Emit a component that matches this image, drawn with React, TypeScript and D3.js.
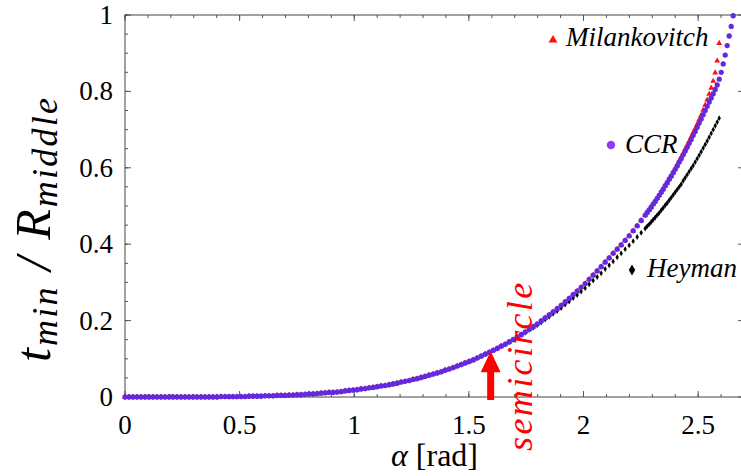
import React from "react";
import * as d3 from "d3";

// svg size and plot box edges (px)
const width = 741,
  height = 476;
const box = { left: 125, top: 15, right: 744, bottom: 397 };
const SERIF = "Liberation Serif";

// sampling grid of the curves, in degrees: 1 deg steps, then 0.5 deg steps near the end
const alphaLowDeg = d3.range(0, 130, 1);
const alphaHighDeg = d3.range(130, 152.01, 0.5);

// t_min / R_middle
const ccrLow = [
  0, 0, 0, 0, 0, 0, 0, 0, 0, 0, 0, 0, 0, 0, 0, 0, 0, 0, 0, 0, 0, 0, 0, 0,
  0.001, 0.001, 0.001, 0.001, 0.001, 0.001, 0.001, 0.002, 0.002, 0.002, 0.002,
  0.003, 0.003, 0.003, 0.004, 0.004, 0.004,
  0.005, 0.005, 0.006, 0.006, 0.007, 0.008, 0.008, 0.009, 0.01,
  0.011, 0.012, 0.012, 0.013, 0.014, 0.016, 0.017, 0.018, 0.019, 0.021,
  0.022, 0.024, 0.025, 0.027, 0.029, 0.03, 0.032, 0.034, 0.036, 0.039,
  0.041, 0.043, 0.046, 0.048, 0.051, 0.054, 0.057, 0.06, 0.063, 0.066,
  0.07, 0.073, 0.077, 0.081, 0.085, 0.089, 0.093, 0.097, 0.102, 0.107,
  0.112, 0.117, 0.122, 0.127, 0.133, 0.138, 0.144, 0.15, 0.157, 0.163,
  0.17, 0.177, 0.184, 0.191, 0.199, 0.207, 0.215, 0.223, 0.231, 0.24,
  0.249, 0.258, 0.268, 0.277, 0.287, 0.297, 0.308, 0.319, 0.33, 0.341,
  0.353, 0.364, 0.376, 0.387, 0.398, 0.41, 0.422, 0.435, 0.448, 0.462,
];
const ccrHigh = [
  0.476, 0.483, 0.49, 0.497, 0.505, 0.512, 0.52, 0.528, 0.536, 0.544,
  0.553, 0.561, 0.57, 0.578, 0.587, 0.596, 0.605, 0.615, 0.624, 0.634,
  0.644, 0.654, 0.664, 0.674, 0.685, 0.695, 0.706, 0.717, 0.728, 0.739,
  0.75, 0.761, 0.772, 0.783, 0.794, 0.805, 0.817, 0.832, 0.85, 0.872,
  0.895, 0.92, 0.945, 0.97, 0.998,
];

const milankovitchLow = [
  0, 0, 0, 0, 0, 0, 0, 0, 0, 0, 0, 0, 0, 0, 0, 0, 0, 0, 0, 0, 0, 0, 0, 0,
  0.001, 0.001, 0.001, 0.001, 0.001, 0.001, 0.001, 0.002, 0.002, 0.002, 0.002,
  0.003, 0.003, 0.003, 0.004, 0.004, 0.004,
  0.005, 0.005, 0.006, 0.006, 0.007, 0.008, 0.008, 0.009, 0.01,
  0.011, 0.012, 0.012, 0.013, 0.014, 0.016, 0.017, 0.018, 0.019, 0.021,
  0.022, 0.024, 0.025, 0.027, 0.029, 0.03, 0.032, 0.034, 0.036, 0.039,
  0.041, 0.043, 0.046, 0.048, 0.051, 0.054, 0.057, 0.06, 0.063, 0.066,
  0.07, 0.073, 0.077, 0.081, 0.085, 0.089, 0.093, 0.097, 0.102, 0.107,
  0.112, 0.117, 0.122, 0.127, 0.133, 0.138, 0.144, 0.15, 0.157, 0.163,
  0.17, 0.177, 0.184, 0.191, 0.199, 0.207, 0.215, 0.223, 0.231, 0.24,
  0.249, 0.258, 0.268, 0.277, 0.287, 0.297, 0.308, 0.319, 0.33, 0.341,
  0.353, 0.364, 0.376, 0.387, 0.398, 0.41, 0.422, 0.435, 0.448, 0.462,
];
const milankovitchHigh = [
  0.476, 0.483, 0.49, 0.497, 0.505, 0.512, 0.52, 0.528, 0.536, 0.544,
  0.553, 0.561, 0.57, 0.579, 0.588, 0.598, 0.608, 0.618, 0.628, 0.638,
  0.649, 0.659, 0.67, 0.681, 0.692, 0.703, 0.714, 0.726, 0.738, 0.751,
  0.764, 0.778, 0.793, 0.809, 0.827, 0.849, 0.88, 0.926,
];

const heymanLow = [
  0, 0, 0, 0, 0, 0, 0, 0, 0, 0, 0, 0, 0, 0, 0, 0, 0, 0, 0, 0, 0, 0, 0, 0,
  0.001, 0.001, 0.001, 0.001, 0.001, 0.001, 0.001, 0.002, 0.002, 0.002, 0.002,
  0.003, 0.003, 0.003, 0.004, 0.004, 0.004,
  0.005, 0.005, 0.006, 0.006, 0.007, 0.008, 0.008, 0.009, 0.01,
  0.011, 0.012, 0.012, 0.013, 0.014, 0.016, 0.017, 0.018, 0.019, 0.021,
  0.022, 0.024, 0.025, 0.027, 0.029, 0.03, 0.032, 0.034, 0.036, 0.039,
  0.041, 0.043, 0.046, 0.048, 0.051, 0.054, 0.057, 0.06, 0.063, 0.066,
  0.07, 0.073, 0.077, 0.081, 0.085, 0.089, 0.093, 0.097, 0.102, 0.107,
  0.112, 0.117, 0.122, 0.127, 0.133, 0.138, 0.144, 0.15, 0.157, 0.163,
  0.168, 0.175, 0.181, 0.188, 0.195, 0.203, 0.21, 0.218, 0.225, 0.233,
  0.242, 0.25, 0.259, 0.267, 0.276, 0.285, 0.295, 0.305, 0.314, 0.324,
  0.335, 0.345, 0.355, 0.366, 0.376, 0.387, 0.397, 0.408, 0.419, 0.43,
];
const heymanHigh = [
  0.441, 0.447, 0.452, 0.458, 0.464, 0.47, 0.476, 0.482, 0.489, 0.495,
  0.502, 0.508, 0.515, 0.522, 0.529, 0.536, 0.543, 0.55, 0.557, 0.566,
  0.574, 0.582, 0.59, 0.598, 0.606, 0.615, 0.624, 0.633, 0.642, 0.652,
  0.661, 0.67, 0.68, 0.69, 0.7, 0.71, 0.72, 0.73,
];

const xTicks = [0, 0.5, 1, 1.5, 2, 2.5];
const yTicks = [0, 0.2, 0.4, 0.6, 0.8, 1];
const semicircleAlpha = 1.595;
const semicircleTip = 0.12;

const xScale = d3.scaleLinear().domain([0, 2.7]).range([box.left, box.right]);
const yScale = d3.scaleLinear().domain([0, 1]).range([box.bottom, box.top]);
const xMinor = d3.range(0, 2.71, 0.1);
const yMinor = d3.range(0, 1.001, 0.05);

const toPoints = (low: number[], high: number[]) => {
  const deg = [...alphaLowDeg, ...alphaHighDeg];
  return [...low, ...high].map((v, i) => [(deg[i] * Math.PI) / 180, v]);
};

// all markers of one series in a single path: each d3 symbol drawn at its point
const markerPath = (points: number[][], type: any, size: number) => {
  const p = d3.path();
  points.forEach(([a, v]) => {
    const cx = xScale(a),
      cy = yScale(v);
    const ctx = {
      moveTo: (x: number, y: number) => p.moveTo(x + cx, y + cy),
      lineTo: (x: number, y: number) => p.lineTo(x + cx, y + cy),
      arc: (x: number, y: number, r: number, a0: number, a1: number, ccw?: boolean) =>
        p.arc(x + cx, y + cy, r, a0, a1, ccw),
      closePath: () => p.closePath(),
    };
    type.draw(ctx, size);
  });
  return p.toString();
};

const series = [
  { key: "heyman", points: toPoints(heymanLow, heymanHigh), color: "#000", symbol: d3.symbolDiamond, size: 10 },
  { key: "milankovitch", points: toPoints(milankovitchLow, milankovitchHigh), color: "#ff1010", symbol: d3.symbolTriangle, size: 15 },
  { key: "ccr", points: toPoints(ccrLow, ccrHigh), color: "#6428e0", symbol: d3.symbolCircle, size: 22 },
];

const legend = [
  { label: "Milankovitch", x: 553, y: 40, tx: 566, ty: 46, color: "#ff1010", symbol: d3.symbolTriangle, size: 34 },
  { label: "CCR", x: 611, y: 145, tx: 625, ty: 153, color: "#8a3ff5", symbol: d3.symbolCircle, size: 56 },
  { label: "Heyman", x: 632, y: 270, tx: 647, ty: 277, color: "#000", symbol: d3.symbolDiamond, size: 36 },
];

const tickStroke = "#555";

export default function App() {
  const ax = xScale(semicircleAlpha);
  const tip = yScale(semicircleTip);

  // all tick marks in one path
  const tp = d3.path();
  xMinor.forEach((t) => {
    tp.moveTo(xScale(t), box.bottom); tp.lineTo(xScale(t), box.bottom - 3);
    tp.moveTo(xScale(t), box.top); tp.lineTo(xScale(t), box.top + 3);
  });
  xTicks.forEach((t) => {
    tp.moveTo(xScale(t), box.bottom); tp.lineTo(xScale(t), box.bottom - 6);
    tp.moveTo(xScale(t), box.top); tp.lineTo(xScale(t), box.top + 6);
  });
  yMinor.forEach((t) => {
    tp.moveTo(box.left, yScale(t)); tp.lineTo(box.left + 3, yScale(t));
    tp.moveTo(box.right, yScale(t)); tp.lineTo(box.right - 3, yScale(t));
  });
  yTicks.forEach((t) => {
    tp.moveTo(box.left, yScale(t)); tp.lineTo(box.left + 6, yScale(t));
    tp.moveTo(box.right, yScale(t)); tp.lineTo(box.right - 6, yScale(t));
  });

  return (
    <svg width={width} height={height} style={{ position: "absolute", left: 0, top: 0 }}>
      <rect width={width} height={height} fill="#fff" />
      <path d={tp.toString()} stroke={tickStroke} strokeWidth={1} fill="none" />
      <rect
        x={box.left}
        y={box.top}
        width={box.right - box.left}
        height={box.bottom - box.top}
        fill="none"
        stroke="#444"
      />

      {/* tick labels */}
      {xTicks.map((t) => (
        <text key={"xl" + t} x={xScale(t)} y={434} textAnchor="middle" fontSize={27} fill="#000" style={{ fontFamily: SERIF }}>
          {String(t)}
        </text>
      ))}
      {yTicks.map((t) => (
        <text key={"yl" + t} x={113} y={yScale(t) + 9} textAnchor="end" fontSize={27} fill="#000" style={{ fontFamily: SERIF }}>
          {String(t)}
        </text>
      ))}

      {/* series markers */}
      {series.map((s) => (
        <path key={s.key} d={markerPath(s.points, s.symbol, s.size)} fill={s.color} />
      ))}

      {/* legend labels next to the curves */}
      {legend.map((l) => (
        <g key={l.label}>
          <path d={markerPath([[xScale.invert(l.x), yScale.invert(l.y)]], l.symbol, l.size)} fill={l.color} />
          <text x={l.tx} y={l.ty} fontSize={27} fill="#000" style={{ fontFamily: SERIF, fontStyle: "italic" }}>
            {l.label}
          </text>
        </g>
      ))}

      {/* semicircle arrow */}
      <rect x={ax - 3.5} y={tip + 19} width={7} height={box.bottom + 3 - (tip + 19)} fill="#ff0000" />
      <path d={`M${ax - 10},${tip + 21} L${ax},${tip} L${ax + 10},${tip + 21} Z`} fill="#ff0000" />
      <text
        transform="translate(532,451) rotate(-90)"
        fontSize={36}
        letterSpacing={2.4}
        fill="#ff0000"
        style={{ fontFamily: SERIF, fontStyle: "italic" }}
      >
        semicircle
      </text>

      {/* axis titles */}
      <text x={(box.left + box.right) / 2} y={466} textAnchor="middle" fontSize={32} fill="#000" style={{ fontFamily: SERIF }}>
        <tspan style={{ fontStyle: "italic" }}>α</tspan>
        <tspan>{"\u00a0[rad]"}</tspan>
      </text>
      <text
        transform="translate(50,229) rotate(-90)"
        textAnchor="middle"
        letterSpacing={2.2}
        fill="#000"
        style={{ fontFamily: SERIF, fontStyle: "italic" }}
      >
        <tspan fontSize={50}>t</tspan>
        <tspan fontSize={36} dy={7}>
          min
        </tspan>
        <tspan fontSize={50} dy={-7}>
          {"\u00a0/\u00a0"}
        </tspan>
        <tspan fontSize={50}>R</tspan>
        <tspan fontSize={36} dy={7}>
          middle
        </tspan>
      </text>
    </svg>
  );
}
